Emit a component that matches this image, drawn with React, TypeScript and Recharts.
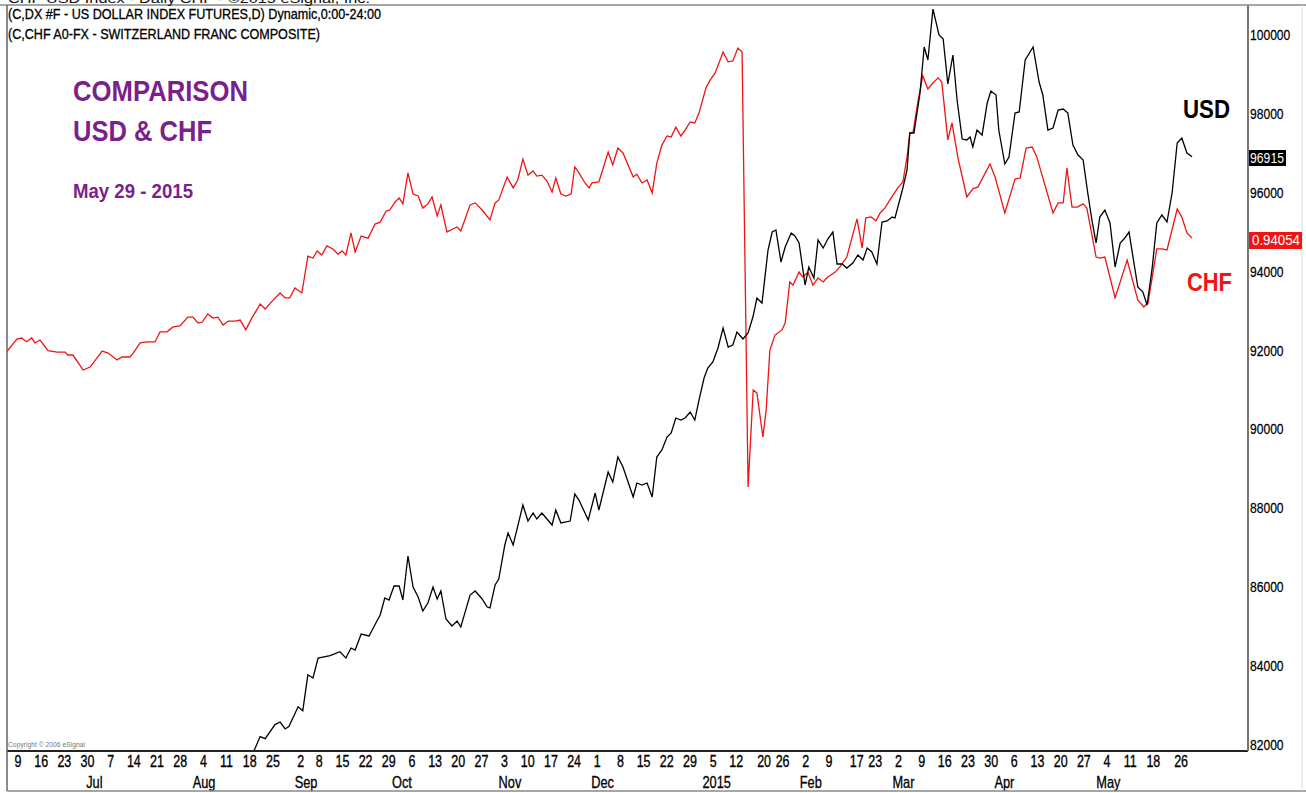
import React from "react";
import { LineChart, Line, XAxis, YAxis } from "recharts";

// ---- data (trading-day index from Mon 9 Jun 2014 = 0) ----
const usdPoints: [number, number][] = [
  [50.3,81618],[51.4,81805],[52.9,82211],[54.0,82160],[56.1,82515],[57.2,82581],[58.3,82404],[59.1,82465],[61.1,82969],[62.1,82868],
  [63.2,83778],[64.3,83697],[65.4,84204],[68.0,84265],[70.1,84364],[71.4,84204],[72.5,84457],[73.4,84407],[74.7,84812],[76.4,84762],
  [78.1,85142],[78.8,85294],[79.8,85725],[80.7,85674],[81.8,86029],[82.9,86029],[83.7,85674],[84.8,86790],[85.9,86004],[87.0,85750],
  [88.0,85396],[89.1,85598],[90.2,86004],[91.1,85700],[91.9,85903],[93.0,85193],[94.3,85015],[95.4,85142],[96.2,84990],[98.2,85801],
  [99.3,85903],[100.8,85700],[101.9,85497],[102.5,85472],[103.6,86055],[104.4,86207],[105.7,87069],[106.4,87373],[107.5,87069],[109.6,88083],
  [110.7,87677],[111.8,87880],[112.6,87728],[113.7,87880],[115.9,87576],[116.7,87956],[117.8,87627],[119.8,87677],[120.8,88362],[121.7,88210],
  [123.7,87703],[125.2,88387],[126.0,87956],[128.0,88920],[129.0,88666],[130.1,89300],[131.2,89047],[133.4,88286],[134.2,88641],[135.3,88590],
  [136.4,88641],[137.5,88286],[138.5,89300],[139.6,89478],[140.7,89807],[141.6,89909],[142.6,90289],[143.7,90238],[144.6,90289],[145.7,90441],
  [146.7,90238],[147.6,90745],[148.7,91303],[149.5,91557],[150.6,91709],[151.7,92064],[152.8,92571],[153.9,92089],[154.9,92140],[155.8,92470],
  [157.1,92292],[158.2,92444],[159.3,92875],[160.1,93332],[161.2,93205],[162.5,94549],[163.4,95005],[164.2,95056],[165.3,94244],[166.2,94625],
  [167.5,94980],[168.3,94904],[169.2,94726],[170.5,93661],[171.3,94118],[172.4,93839],[173.3,94802],[174.4,94599],[175.4,94828],[176.5,95005],
  [177.4,94194],[178.5,94194],[179.5,94092],[180.8,94219],[181.9,94422],[183.0,94295],[183.9,94599],[184.9,94498],[186.0,94194],[187.1,95259],
  [188.2,95284],[189.3,95385],[189.9,95360],[191.6,96121],[192.5,96577],[193.1,97515],[194.0,97515],[195.3,98529],[196.2,99696],[197.0,99366],
  [198.1,100659],[199.4,100000],[200.3,99899],[201.3,98758],[202.4,99493],[203.3,98352],[204.4,97363],[205.4,97338],[206.1,97414],[206.7,97160],
  [207.6,97591],[208.7,97464],[209.8,98276],[210.6,98580],[211.7,98479],[212.3,97591],[213.6,96729],[214.5,96907],[215.8,98022],[216.7,98048],
  [218.0,99366],[219.7,99696],[221.0,98808],[221.8,98479],[222.9,97591],[224.0,97642],[225.1,98098],[226.2,98124],[227.2,98022],[228.3,97211],
  [229.4,96957],[230.5,96831],[231.5,95994],[232.4,95309],[233.3,94726],[234.1,95385],[235.2,95563],[236.3,95233],[237.4,94118],[238.5,94726],
  [239.5,94853],[240.4,95005],[242.3,93611],[243.4,93484],[244.3,93154],[245.4,94092],[246.4,95233],[247.5,95436],[248.6,95259],[249.7,95994],
  [250.8,97262],[251.8,97388],[252.9,97008],[254.0,96915],
];

const chfPoints: [number, number][] = [
  [-1.8,0.8943],[0.4,0.8995],[1.4,0.8999],[2.5,0.8984],[3.6,0.8999],[4.3,0.8979],[5.4,0.8991],[7.1,0.8948],[9.1,0.8942],[10.8,0.8942],
  [11.4,0.8930],[12.5,0.8930],[14.7,0.8869],[16.2,0.8881],[17.7,0.8918],[18.8,0.8946],[20.1,0.8938],[22.0,0.8910],[23.1,0.8922],[24.8,0.8922],
  [25.5,0.8938],[27.0,0.8979],[28.5,0.8983],[30.2,0.8983],[31.3,0.9024],[32.8,0.9024],[34.1,0.9044],[35.6,0.9048],[37.3,0.9084],[38.4,0.9084],
  [39.5,0.9060],[40.4,0.9064],[41.6,0.9097],[42.7,0.9080],[43.8,0.9084],[44.9,0.9052],[46.0,0.9068],[47.5,0.9068],[48.6,0.9072],[49.8,0.9032],
  [51.1,0.9080],[52.9,0.9137],[54.0,0.9117],[55.5,0.9149],[57.2,0.9182],[58.3,0.9162],[59.3,0.9162],[60.4,0.9202],[61.9,0.9182],[63.2,0.9332],
  [64.3,0.9324],[65.2,0.9353],[66.2,0.9336],[67.3,0.9373],[68.6,0.9361],[69.7,0.9340],[70.6,0.9353],[71.4,0.9336],[72.5,0.9426],[73.4,0.9349],
  [74.7,0.9413],[76.2,0.9405],[77.7,0.9462],[78.8,0.9470],[80.1,0.9515],[80.9,0.9519],[82.0,0.9552],[82.9,0.9568],[83.7,0.9544],[84.8,0.9670],
  [85.9,0.9584],[87.0,0.9576],[88.0,0.9527],[89.1,0.9544],[90.0,0.9572],[91.1,0.9495],[91.9,0.9540],[93.2,0.9430],[94.5,0.9442],[95.4,0.9450],
  [96.2,0.9434],[98.2,0.9540],[99.3,0.9548],[100.8,0.9519],[102.5,0.9479],[103.6,0.9548],[104.4,0.9560],[106.2,0.9653],[107.5,0.9609],[108.5,0.9641],
  [109.6,0.9726],[110.7,0.9661],[111.8,0.9678],[112.6,0.9657],[113.7,0.9661],[114.8,0.9637],[115.9,0.9592],[116.7,0.9649],[117.8,0.9584],[118.9,0.9576],
  [120.0,0.9584],[120.8,0.9694],[121.7,0.9670],[123.0,0.9629],[123.9,0.9609],[124.5,0.9629],[126.0,0.9633],[128.0,0.9755],[129.0,0.9702],[130.1,0.9771],
  [131.2,0.9751],[133.4,0.9653],[134.2,0.9665],[135.3,0.9629],[136.4,0.9641],[137.5,0.9588],[138.5,0.9710],[139.6,0.9783],[140.7,0.9820],[141.6,0.9816],
  [142.6,0.9856],[143.7,0.9820],[144.6,0.9844],[145.7,0.9877],[146.7,0.9873],[147.6,0.9913],[149.1,1.0015],[150.0,1.0047],[151.1,1.0076],[152.8,1.0161],
  [153.9,1.0121],[154.9,1.0125],[156.0,1.0177],[156.9,1.0161],[158.2,0.8394],[159.3,0.8788],[160.1,0.8776],[161.4,0.8597],[162.1,0.8707],[162.9,0.8950],
  [164.0,0.9011],[165.5,0.9032],[166.2,0.9060],[167.2,0.9227],[167.9,0.9214],[169.2,0.9267],[170.0,0.9247],[171.1,0.9267],[172.2,0.9214],[173.3,0.9243],
  [174.4,0.9227],[175.4,0.9247],[177.0,0.9267],[178.0,0.9288],[179.5,0.9328],[181.7,0.9483],[182.8,0.9365],[183.6,0.9487],[184.7,0.9491],[185.8,0.9475],
  [186.7,0.9507],[187.7,0.9527],[188.8,0.9560],[190.5,0.9609],[191.6,0.9633],[192.5,0.9735],[193.1,0.9832],[193.8,0.9836],[194.9,0.9966],[195.9,1.0064],
  [197.0,1.0011],[198.1,1.0035],[199.2,1.0056],[200.0,1.0039],[201.3,0.9804],[202.2,0.9873],[203.5,0.9730],[205.4,0.9572],[206.7,0.9605],[207.8,0.9613],
  [210.4,0.9706],[211.5,0.9653],[213.6,0.9507],[215.8,0.9645],[216.9,0.9649],[218.2,0.9771],[219.5,0.9775],[220.5,0.9735],[224.0,0.9507],[225.1,0.9548],
  [226.2,0.9548],[227.0,0.9690],[228.1,0.9531],[229.2,0.9531],[230.5,0.9544],[231.3,0.9527],[233.3,0.9328],[234.1,0.9324],[235.2,0.9328],[237.4,0.9162],
  [240.0,0.9316],[242.3,0.9154],[243.6,0.9125],[244.5,0.9141],[246.4,0.9361],[247.5,0.9361],[248.6,0.9357],[250.8,0.9523],[251.8,0.9491],[252.9,0.9426],
  [254.0,0.94054],
];

const weekTicks: [number, string][] = [
  [0,"9"],[5,"16"],[10,"23"],[15,"30"],[20,"7"],[25,"14"],[30,"21"],[35,"28"],[40,"4"],[45,"11"],[50,"18"],[55,"25"],
  [61,"2"],[65,"8"],[70,"15"],[75,"22"],[80,"29"],[85,"6"],[90,"13"],[95,"20"],[100,"27"],[105,"3"],[110,"10"],[115,"17"],
  [120,"24"],[125,"1"],[130,"8"],[135,"15"],[140,"22"],[145,"29"],[150,"5"],[155,"12"],[161,"20"],[165,"26"],[170,"2"],[175,"9"],
  [181,"17"],[185,"23"],[190,"2"],[195,"9"],[200,"16"],[205,"23"],[210,"30"],[215,"6"],[220,"13"],[225,"20"],[230,"27"],[235,"4"],
  [240,"11"],[245,"18"],[251,"26"],
];
const monthTicks: [number, string][] = [
  [16,"Jul"],[39,"Aug"],[61,"Sep"],[82,"Oct"],[105,"Nov"],[125,"Dec"],[149,"2015"],[170,"Feb"],[190,"Mar"],[212,"Apr"],[234,"May"],
];
const usdTicks = [82000, 84000, 86000, 88000, 90000, 92000, 94000, 96000, 98000, 100000];
const lastUsdLabel = "96915";
const lastChfLabel = "0.94054";

const usdData = usdPoints.map(([i, v]) => ({ i, usd: v }));
const chfData = chfPoints.map(([i, v]) => ({ i, chf: v }));
const weekMap = new Map(weekTicks);
const monthMap = new Map(monthTicks);
const allTicks = Array.from(new Set([...weekTicks.map((t) => t[0]), ...monthTicks.map((t) => t[0])])).sort((a, b) => a - b);

const FONT = "'Liberation Sans', Arial, sans-serif";
const PURPLE = "#7b1f8c";
const RED = "#f01414";

const XTick = (props: any) => {
  const { x, y, payload } = props;
  const w = weekMap.get(payload.value);
  const m = monthMap.get(payload.value);
  return (
    <g>
      {w && (
        <text transform={`translate(${x + 3},${y + 16}) scale(0.78,1)`} textAnchor="middle" fontSize={16} fontFamily={FONT} fill="#000" stroke="#000" strokeWidth={0.35}>
          {w}
        </text>
      )}
      {m && (
        <text transform={`translate(${x - 3},${y + 37}) scale(0.8,1)`} textAnchor="start" fontSize={16} fontFamily={FONT} fill="#000" stroke="#000" strokeWidth={0.3}>
          {m}
        </text>
      )}
    </g>
  );
};

const YTick = (props: any) => {
  const { x, y, payload } = props;
  return (
    <text transform={`translate(${x + 2},${y + 5}) scale(0.78,1)`} textAnchor="start" fontSize={15.5} fontFamily={FONT} fill="#000" stroke="#000" strokeWidth={0.25}>
      {payload.value}
    </text>
  );
};

export default function App() {
  return (
    <div style={{ position: "absolute", left: 0, top: 0, width: 1306, height: 793, background: "#fff", overflow: "hidden" }}>
      <LineChart width={1306} height={793} margin={{ top: 5, right: 0, bottom: 0, left: 7 }}>
        <XAxis
          xAxisId="t"
          dataKey="i"
          type="number"
          domain={[-1.73, 266.08]}
          allowDataOverflow
          ticks={allTicks}
          interval={0}
          tick={<XTick />}
          tickLine={false}
          tickSize={0}
          tickMargin={0}
          height={42}
          axisLine={{ stroke: "#222", strokeWidth: 2 }}
        />
        <YAxis
          yAxisId="usd"
          orientation="right"
          type="number"
          domain={[81846, 100761]}
          allowDataOverflow
          ticks={usdTicks}
          interval={0}
          tick={<YTick />}
          tickLine={false}
          tickSize={0}
          tickMargin={0}
          width={58}
          axisLine={{ stroke: "#777", strokeWidth: 2 }}
        />
        <YAxis yAxisId="chf" hide type="number" domain={[0.73211, 1.03521]} allowDataOverflow />
        <Line
          xAxisId="t"
          yAxisId="chf"
          data={chfData}
          dataKey="chf"
          type="linear"
          stroke={RED}
          strokeWidth={1.3}
          dot={false}
          isAnimationActive={false}
        />
        <Line
          xAxisId="t"
          yAxisId="usd"
          data={usdData}
          dataKey="usd"
          type="linear"
          stroke="#000"
          strokeWidth={1.3}
          dot={false}
          isAnimationActive={false}
        />
      </LineChart>
      <svg width={1306} height={793} style={{ position: "absolute", left: 0, top: 0, pointerEvents: "none" }}>
        <line x1={0} y1={5} x2={1306} y2={5} stroke="#888" strokeWidth={1.5} />
        <line x1={7} y1={5} x2={7} y2={791} stroke="#666" strokeWidth={1.5} />
        <line x1={7} y1={791} x2={1306} y2={791} stroke="#888" strokeWidth={1.5} />
        <line x1={1302} y1={5} x2={1302} y2={791} stroke="#ddd" strokeWidth={1} />
        <text x={8} y={3} fontSize={13} fontFamily={FONT} fill="#111" textLength={362} lengthAdjust="spacingAndGlyphs">
          CHF USD Index - Daily CHF - ©2015 eSignal, Inc.
        </text>
        <text x={8} y={19} fontSize={14} fontFamily={FONT} fill="#000" stroke="#000" strokeWidth={0.3} textLength={373} lengthAdjust="spacingAndGlyphs">
          (C,DX #F - US DOLLAR INDEX FUTURES,D) Dynamic,0:00-24:00
        </text>
        <text x={8} y={39} fontSize={14} fontFamily={FONT} fill="#000" stroke="#000" strokeWidth={0.3} textLength={312} lengthAdjust="spacingAndGlyphs">
          (C,CHF A0-FX - SWITZERLAND FRANC COMPOSITE)
        </text>
        <text x={73} y={101} fontSize={30} fontWeight="bold" fontFamily={FONT} fill={PURPLE} textLength={175} lengthAdjust="spacingAndGlyphs">
          COMPARISON
        </text>
        <text x={73} y={141} fontSize={30} fontWeight="bold" fontFamily={FONT} fill={PURPLE} textLength={139} lengthAdjust="spacingAndGlyphs">
          USD &amp; CHF
        </text>
        <text x={73} y={198} fontSize={20} fontWeight="bold" fontFamily={FONT} fill={PURPLE} textLength={120} lengthAdjust="spacingAndGlyphs">
          May 29 - 2015
        </text>
        <text x={1183} y={118} fontSize={26} fontWeight="bold" fontFamily={FONT} fill="#000" textLength={47} lengthAdjust="spacingAndGlyphs">
          USD
        </text>
        <text x={1187} y={291} fontSize={26} fontWeight="bold" fontFamily={FONT} fill={RED} textLength={45} lengthAdjust="spacingAndGlyphs">
          CHF
        </text>
        <rect x={1249} y={150} width={37} height={16} fill="#000" />
        <text x={1250} y={163} fontSize={14} fontFamily={FONT} fill="#fff" textLength={34} lengthAdjust="spacingAndGlyphs">
          {lastUsdLabel}
        </text>
        <rect x={1249} y={232} width={53} height={17} fill={RED} />
        <text x={1252} y={245} fontSize={14} fontFamily={FONT} fill="#fff" textLength={48} lengthAdjust="spacingAndGlyphs">
          {lastChfLabel}
        </text>
        <text x={8} y={747} fontSize={7} fontFamily={FONT} fill="#777" textLength={77} lengthAdjust="spacingAndGlyphs">
          Copyright © 2006 eSignal
        </text>
      </svg>
    </div>
  );
}
